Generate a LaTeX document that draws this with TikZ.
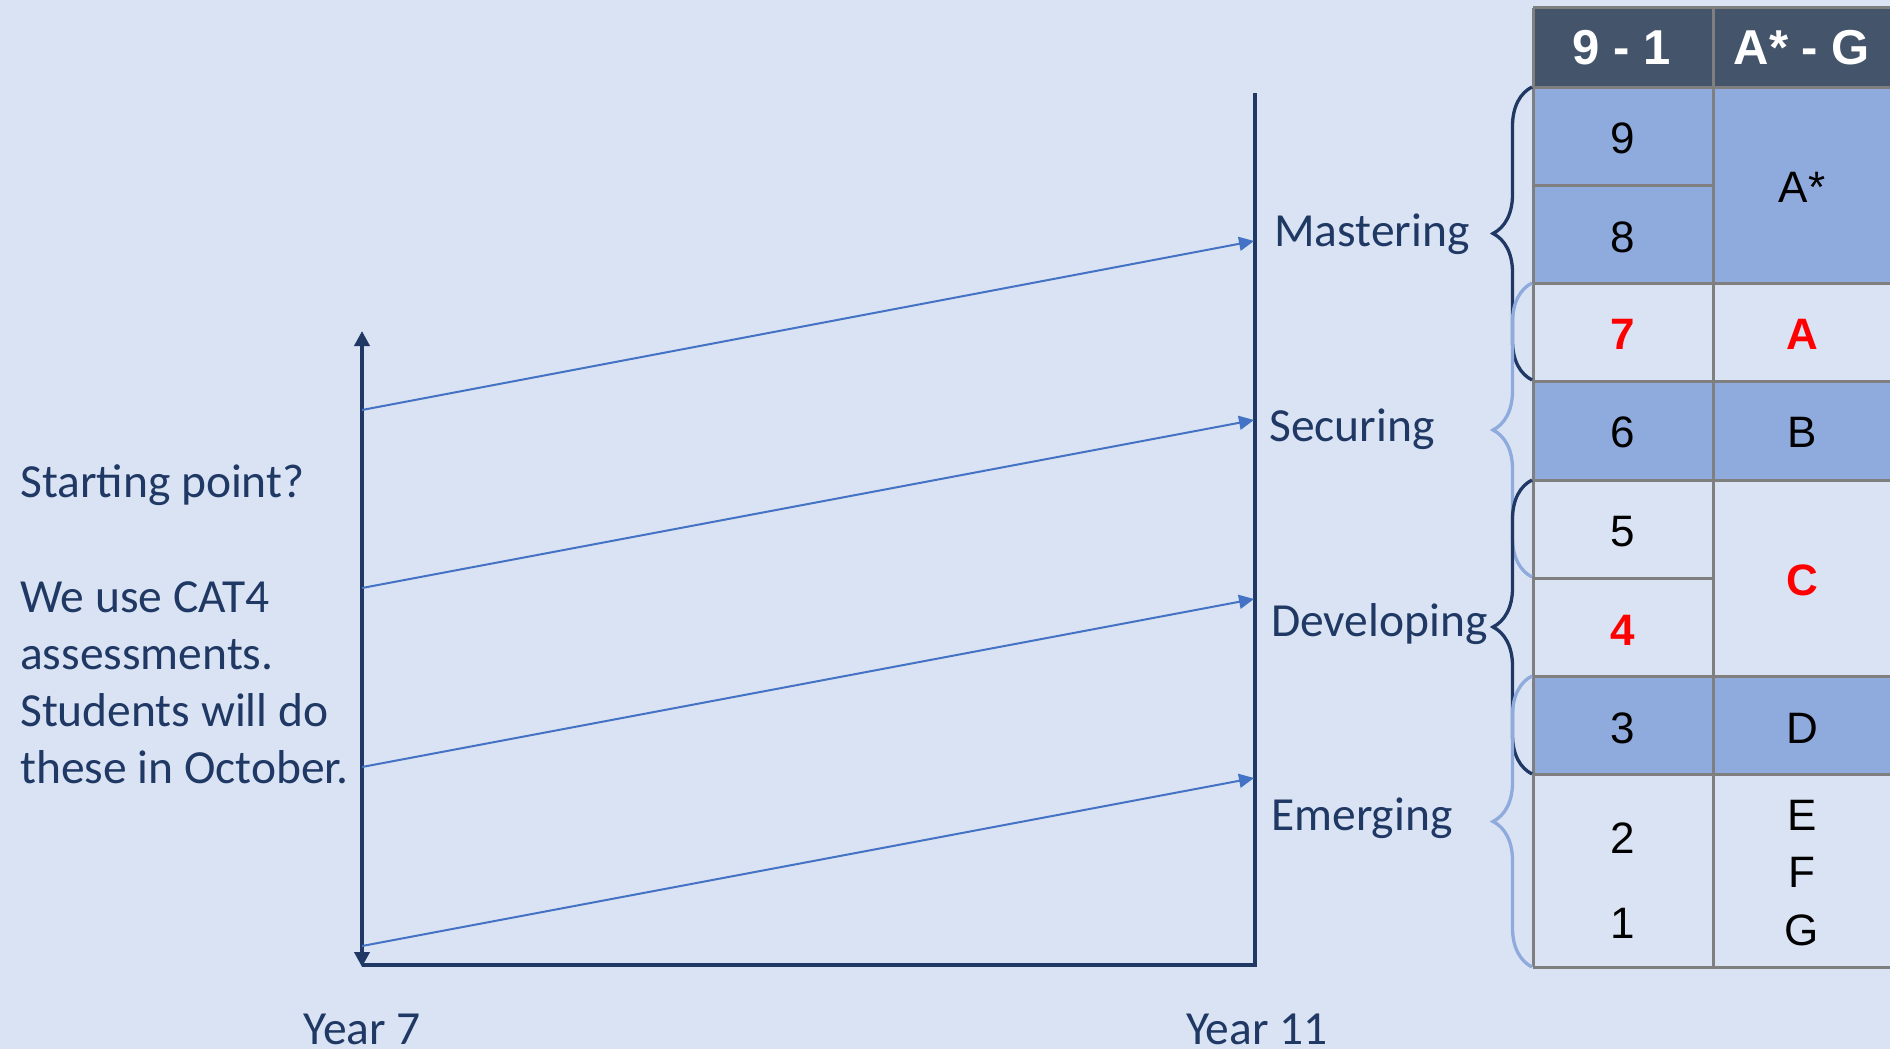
\documentclass[tikz,border=0pt]{standalone}
\usepackage{fontspec}
\usetikzlibrary{arrows.meta,decorations.pathreplacing}
\newfontfamily\calibri{Carlito}
\newfontfamily\arial{Liberation Sans}
\definecolor{slide}{HTML}{DAE3F3}
\definecolor{navy}{HTML}{1F3864}
\definecolor{slate}{HTML}{44546A}
\definecolor{midblue}{HTML}{8FAADC}
\definecolor{accent}{HTML}{4472C4}
\definecolor{gridgray}{HTML}{7F7F7F}
\tikzset{
    lbl/.style={font=\calibri\fontsize{47.5}{57}\selectfont,text=navy,inner sep=0pt},
    cell/.style={font=\arial\fontsize{44}{57}\selectfont,inner sep=0pt},
    hot/.style={font=\arial\bfseries\fontsize{44}{57}\selectfont,text=red,inner sep=0pt},
    gridline/.style={draw=gridgray,line width=3pt},
    grade/.style={decorate,decoration={brace,amplitude=39pt},line width=3.3pt}
}
\begin{document}
\begin{tikzpicture}[x=1pt,y=-1pt]
    \fill[slide] (0,0) rectangle (1890,1049);
    \useasboundingbox (0,0) rectangle (1890,1049);
    % axes
    \coordinate (axtop) at (362,331);
    \coordinate (axbot) at (362,967);
    \coordinate (corner) at (1255,965);
    \coordinate (endtop) at (1255,93);
    \draw[navy,line width=4pt,{Triangle[length=15pt,width=15pt]}-{Triangle[length=15pt,width=15pt]}] (axbot) -- (axtop);
    \draw[navy,line width=4pt] (362,965) -- (corner);
    \draw[navy,line width=3.3pt] (endtop) -- (1255,967);
    % progress lines
    \foreach \i/\ys/\ye in {1/410/241, 2/588/420, 3/767/599, 4/946/778} {
        \coordinate (s\i) at (362,\ys);
        \coordinate (e\i) at (1254,\ye);
        \draw[accent,line width=2pt,-{Triangle[length=15pt,width=14pt]}] (s\i) -- (e\i);
    }
    % stage labels
    \foreach \stage/\x/\y in {Mastering/1274/246, Securing/1269/441, Developing/1271/636, Emerging/1271/830}
        \node[lbl,anchor=base west] (\stage) at (\x,\y) {\stage};
    \node[lbl,anchor=base west,align=left] (start) at (20,783)
        {Starting point?\\[58pt]We use CAT4\\assessments.\\Students will do\\these in October.};
    \node[lbl,anchor=base] (year7) at (362,1044) {Year 7};
    \node[lbl,anchor=base] (year11) at (1257,1044) {Year 11};
    % grade table
    \fill[slate] (1533,8) rectangle (1893,87);
    \fill[midblue] (1533,87) rectangle (1893,283);
    \fill[midblue] (1533,381) rectangle (1893,480);
    \fill[midblue] (1533,676) rectangle (1893,774);
    \foreach \y in {8,87,283,381,480,676,774,967}
        \draw[gridline] (1533,\y) -- (1893,\y);
    \foreach \y in {185,578}
        \draw[gridline] (1533,\y) -- (1713,\y);
    \foreach \x in {1533,1713}
        \draw[gridline] (\x,8) -- (\x,967);
    \node[cell,font=\arial\bfseries\fontsize{49}{57}\selectfont,text=white] (new) at (1622,48) {9 - 1};
    \node[cell,font=\arial\bfseries\fontsize{49}{57}\selectfont,text=white] (old) at (1802,48) {A* - G};
    \foreach \g/\y/\s in {9/138/cell, 8/237/cell, 7/334/hot, 6/432/cell, 5/532/cell, 4/630/hot, 3/728/cell, 2/838/cell, 1/923/cell}
        \node[\s] (n\g) at (1623,\y) {\g};
    \foreach \g/\y/\s [count=\k] in {A*/187/cell, A/334/hot, B/432/cell, C/580/hot, D/728/cell, E/815/cell, F/872/cell, G/930/cell}
        \node[\s] (l\k) at (1802,\y) {\g};
    % braces
    \foreach \ya/\yb/\bc [count=\k] in {87/380/navy, 283/577/midblue, 480/774/navy, 676/967/midblue} {
        \coordinate (bb\k) at (1532,\yb);
        \coordinate (bt\k) at (1532,\ya);
        \draw[grade,\bc] (bb\k) -- (bt\k);
    }
\end{tikzpicture}
\end{document}
